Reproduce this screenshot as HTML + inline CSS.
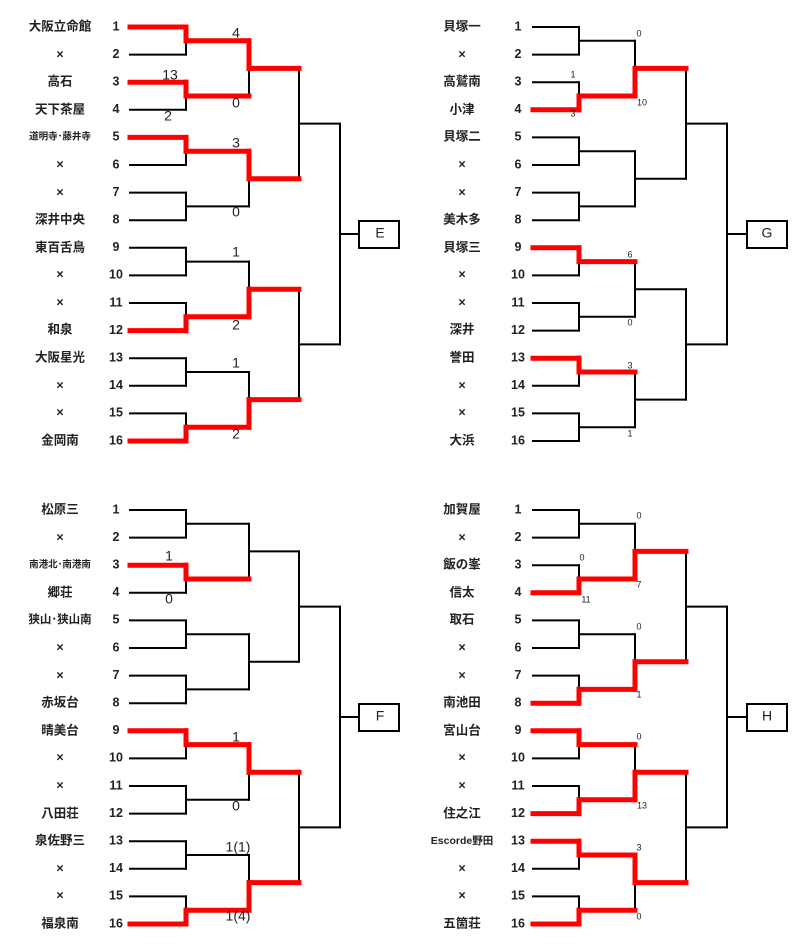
<!DOCTYPE html>
<html><head><meta charset="utf-8"><style>
body{margin:0;background:#fff;width:800px;height:952px;overflow:hidden}
svg{display:block}
text{font-family:"Liberation Sans","Noto Sans CJK JP",sans-serif;fill:#222;dominant-baseline:middle;text-anchor:middle}
.n{font-size:12.5px;font-weight:bold}
.s{font-size:14px}
.t{font-size:9px}
</style></head><body>
<svg id="g" width="800" height="952" viewBox="0 0 800 952">
<g id="lines"></g>
<!-- E -->
<g class="n">
<text x="60" y="27">大阪立命館</text><text x="60" y="55">×</text><text x="60" y="82">高石</text><text x="60" y="110">天下茶屋</text>
<text x="60" y="137" style="font-size:9.5px">道明寺･藤井寺</text><text x="60" y="165">×</text><text x="60" y="193">×</text><text x="60" y="220">深井中央</text>
<text x="60" y="248">東百舌鳥</text><text x="60" y="275">×</text><text x="60" y="303">×</text><text x="60" y="330">和泉</text>
<text x="60" y="358">大阪星光</text><text x="60" y="386">×</text><text x="60" y="413">×</text><text x="60" y="441">金岡南</text>
</g>
<!-- G -->
<g class="n">
<text x="462" y="27">貝塚一</text><text x="462" y="55">×</text><text x="462" y="82">高鷲南</text><text x="462" y="110">小津</text>
<text x="462" y="137">貝塚二</text><text x="462" y="165">×</text><text x="462" y="193">×</text><text x="462" y="220">美木多</text>
<text x="462" y="248">貝塚三</text><text x="462" y="275">×</text><text x="462" y="303">×</text><text x="462" y="330">深井</text>
<text x="462" y="358">誉田</text><text x="462" y="386">×</text><text x="462" y="413">×</text><text x="462" y="441">大浜</text>
</g>
<!-- F -->
<g class="n">
<text x="60" y="510">松原三</text><text x="60" y="538">×</text><text x="60" y="565" style="font-size:9.5px">南港北･南港南</text><text x="60" y="593">郷荘</text>
<text x="60" y="620" style="font-size:11.5px">狭山･狭山南</text><text x="60" y="648">×</text><text x="60" y="676">×</text><text x="60" y="703">赤坂台</text>
<text x="60" y="731">晴美台</text><text x="60" y="758">×</text><text x="60" y="786">×</text><text x="60" y="814">八田荘</text>
<text x="60" y="841">泉佐野三</text><text x="60" y="869">×</text><text x="60" y="896">×</text><text x="60" y="924">福泉南</text>
</g>
<!-- H -->
<g class="n">
<text x="462" y="510">加賀屋</text><text x="462" y="538">×</text><text x="462" y="565">飯の峯</text><text x="462" y="593">信太</text>
<text x="462" y="620">取石</text><text x="462" y="648">×</text><text x="462" y="676">×</text><text x="462" y="703">南池田</text>
<text x="462" y="731">宮山台</text><text x="462" y="758">×</text><text x="462" y="786">×</text><text x="462" y="814">住之江</text>
<text x="462" y="841" style="font-size:10.5px">Escorde野田</text><text x="462" y="869">×</text><text x="462" y="896">×</text><text x="462" y="924">五箇荘</text>
</g>
<g class="n" id="nums"></g>
<!-- scores -->
<g class="s">
<text x="236" y="34">4</text><text x="170" y="76">13</text><text x="236" y="104">0</text><text x="168" y="117">2</text>
<text x="236" y="144">3</text><text x="236" y="213">0</text><text x="236" y="253">1</text><text x="236" y="326">2</text>
<text x="236" y="364">1</text><text x="236" y="435">2</text>
<text x="169" y="557">1</text><text x="169" y="600">0</text><text x="236" y="738">1</text><text x="236" y="807">0</text>
<text x="238" y="848">1(1)</text><text x="238" y="917">1(4)</text>
</g>
<g class="t">
<text x="639" y="34">0</text><text x="573" y="75">1</text><text x="573" y="114">3</text><text x="642" y="103">10</text>
<text x="630" y="255">6</text><text x="630" y="323">0</text><text x="630" y="366">3</text><text x="630" y="434">1</text>
<text x="639" y="516">0</text><text x="582" y="558">0</text><text x="639" y="585">7</text><text x="586" y="600">11</text>
<text x="639" y="627">0</text><text x="639" y="695">1</text><text x="639" y="737">0</text><text x="642" y="806">13</text>
<text x="639" y="848">3</text><text x="639" y="917">0</text>
</g>
<g style="font-size:14px">
<text x="380" y="234">E</text><text x="767" y="234">G</text><text x="380" y="717">F</text><text x="767" y="717">H</text>
</g>
</svg>
<script>
var NS="http://www.w3.org/2000/svg",L=document.getElementById("lines"),N=document.getElementById("nums");
function ln(x1,y1,x2,y2,c,w){var e=document.createElementNS(NS,"line");e.setAttribute("x1",x1);e.setAttribute("y1",y1);e.setAttribute("x2",x2);e.setAttribute("y2",y2);e.setAttribute("stroke",c);e.setAttribute("stroke-width",w);e.setAttribute("stroke-linecap","square");L.appendChild(e);}
function br(X,y0,red,nx){
 var xs=X,ys=[];for(var i=0;i<16;i++)ys.push(y0+27.6*i);
 for(var i=0;i<16;i++){var t=document.createElementNS(NS,"text");t.setAttribute("x",nx);t.setAttribute("y",ys[i]);t.textContent=i+1;N.appendChild(t);}
 var lv=[ys];
 for(var r=0;r<4;r++){var p=lv[r],q=[];for(var j=0;j<p.length;j+=2)q.push((p[j]+p[j+1])/2);lv.push(q);}
 for(var i=0;i<16;i++)ln(xs[0],ys[i],xs[1],ys[i],"#000",2);
 for(var r=0;r<4;r++){var p=lv[r],q=lv[r+1];for(var j=0;j<q.length;j++){ln(xs[r+1],p[2*j],xs[r+1],p[2*j+1],"#000",2);ln(xs[r+1],q[j],xs[r+2],q[j],"#000",2);}}
 // box
 var b=document.createElementNS(NS,"rect");b.setAttribute("x",xs[5]);b.setAttribute("y",lv[4][0]-13);b.setAttribute("width",40);b.setAttribute("height",27);b.setAttribute("fill","#fff");b.setAttribute("stroke","#000");b.setAttribute("stroke-width",2);L.appendChild(b);
 red.forEach(function(rd){var row=rd[0]-1,d=rd[1];var idx=row,y=ys[row];
  ln(xs[0],y,xs[1],y,"#f00",5);
  for(var r=0;r<d;r++){var ni=Math.floor(idx/2),ny=lv[r+1][ni];ln(xs[r+1],y,xs[r+1],ny,"#f00",5);ln(xs[r+1],ny,xs[r+2],ny,"#f00",5);idx=ni;y=ny;}
 });
}
br([130,186,249,299,340,359],27,[[1,2],[3,1],[5,2],[12,2],[16,2]],116);
br([533,579,635,686,727,747],27,[[4,2],[9,1],[13,1]],518);
br([130,186,249,299,340,359],510,[[3,1],[9,2],[16,2]],116);
br([533,579,635,686,727,747],510,[[4,2],[8,2],[9,1],[12,2],[13,2],[16,1]],518);
</script>
</body></html>
